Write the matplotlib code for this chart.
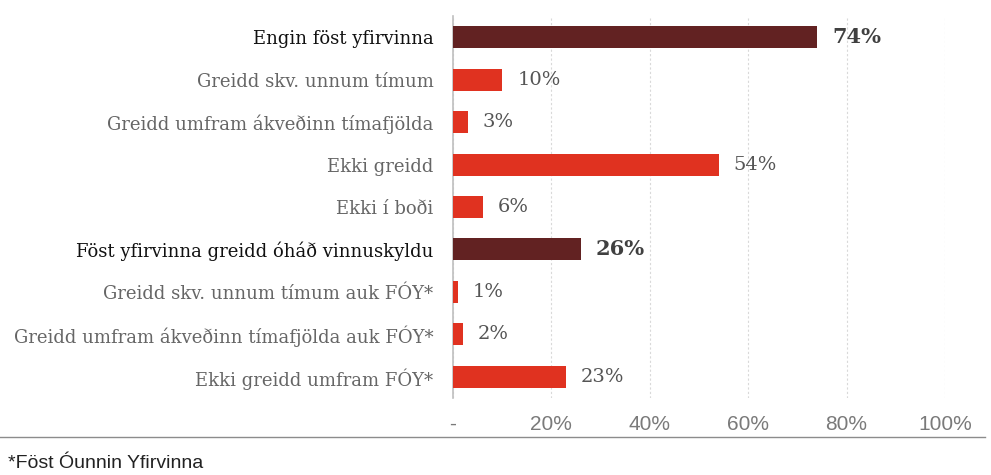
import matplotlib.pyplot as plt
from matplotlib.lines import Line2D

# ----------------------------------------------------------------------
# Data
# ----------------------------------------------------------------------

categories = [
    "Engin föst yfirvinna",
    "Greidd skv. unnum tímum",
    "Greidd umfram ákveðinn tímafjölda",
    "Ekki greidd",
    "Ekki í boði",
    "Föst yfirvinna greidd óháð vinnuskyldu",
    "Greidd skv. unnum tímum auk FÓY*",
    "Greidd umfram ákveðinn tímafjölda auk FÓY*",
    "Ekki greidd umfram FÓY*",
]
values = [74, 10, 3, 54, 6, 26, 1, 2, 23]
is_total = [True, False, False, False, False, True, False, False, False]
tick_values = [0, 20, 40, 60, 80, 100]
tick_labels = ["-", "20%", "40%", "60%", "80%", "100%"]
footnote = "*Föst Óunnin Yfirvinna"

COLORS = {
    "total": "#622222",
    "part": "#E03220",
    "label": "#666666",
    "total_label": "#111111",
    "value": "#555555",
    "total_value": "#404040",
    "grid": "#D9D9D9",
    "axis": "#BFBFBF",
}

SERIF = ["DejaVu Serif"]
NARROW = ["Liberation Sans", "DejaVu Sans"]

fig = plt.figure(figsize=(9.91, 4.75), dpi=100)
ax = fig.add_axes([453 / 991, 1 - 398 / 475, (945 - 453) / 991, (398 - 16) / 475])

ypos = list(range(len(categories)))
bar_colors = [COLORS["total"] if t else COLORS["part"] for t in is_total]
ax.barh(ypos, values, height=0.52, color=bar_colors, zorder=3)

ax.set_xlim(0, 100)
ax.set_ylim(len(categories) - 0.5, -0.5)

# category labels
ax.set_yticks(ypos)
ax.set_yticklabels(categories, family=SERIF, fontsize=13)
for lbl, t in zip(ax.get_yticklabels(), is_total):
    lbl.set_color(COLORS["total_label"] if t else COLORS["label"])
    lbl.set_y(lbl.get_position()[1])
ax.tick_params(axis="y", length=0, pad=14)

# value labels
for y, v, t in zip(ypos, values, is_total):
    ax.annotate(
        f"{v}%", (v, y), xytext=(15, 0), textcoords="offset pixels",
        va="center", ha="left", family=SERIF,
        fontsize=15 if t else 14,
        fontweight="bold" if t else "normal",
        color=COLORS["total_value"] if t else COLORS["value"],
    )

# x ticks
ax.set_xticks(tick_values)
ax.set_xticklabels(tick_labels, family=NARROW, fontsize=15, color="#7A7A7A")
ax.tick_params(axis="x", length=0, pad=12)

ax.grid(axis="x", color=COLORS["grid"], linestyle=(0, (2, 2)), linewidth=0.8, zorder=0)
for side in ["top", "right", "bottom"]:
    ax.spines[side].set_visible(False)
ax.spines["left"].set_color(COLORS["axis"])
ax.spines["left"].set_linewidth(1.2)

# separator line and footnote
fig.add_artist(Line2D([0, 985 / 991], [1 - 437 / 475] * 2, color="#8C8C8C", linewidth=1))
fig.text(8 / 991, 1 - 463 / 475, footnote, family=NARROW, fontsize=14,
         color="#222222", va="center", ha="left")

fig.savefig("out.png", dpi=100)
